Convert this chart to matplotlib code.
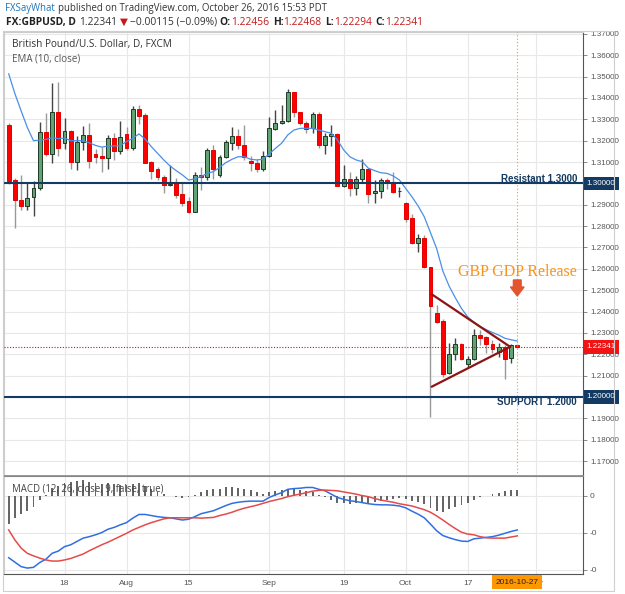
import matplotlib
matplotlib.use('Agg')
import matplotlib.pyplot as plt
import matplotlib.transforms as mtransforms
from matplotlib.patches import Rectangle, FancyArrow
import numpy as np
import pandas as pd

# daily GBPUSD candles, 2016-07-05 .. 2016-10-27
opens = [1.3274, 1.3016, 1.2923, 1.2896, 1.2935, 1.2977, 1.3239, 1.3136, 1.3333, 1.3188,
         1.3244, 1.3099, 1.3193, 1.3225, 1.3136, 1.3127, 1.3121, 1.3211, 1.3154, 1.3232,
         1.3164, 1.3347, 1.3321, 1.3101, 1.3066, 1.3032, 1.2993, 1.3001, 1.2949, 1.2918,
         1.2868, 1.3040, 1.3032, 1.3157, 1.3040, 1.3126, 1.3191, 1.3222, 1.3180, 1.3105,
         1.3097, 1.3068, 1.3129, 1.3255, 1.3282, 1.3294, 1.3427, 1.3333, 1.3282, 1.3258,
         1.3325, 1.3180, 1.3222, 1.3232, 1.2990, 1.3019, 1.2977, 1.3021, 1.3068, 1.2957,
         1.2966, 1.3016, 1.3008, 1.2963, 1.2910, 1.2837, 1.2720, 1.2743, 1.2607, 1.2392,
         1.2357, 1.2114, 1.2200, 1.2248, 1.2153, 1.2176, 1.2290, 1.2279, 1.2248, 1.2212,
         1.2235, 1.2184, 1.22456]
highs = [1.3285, 1.3024, 1.3040, 1.3008, 1.3011, 1.3289, 1.3332, 1.3469, 1.3474, 1.3305,
         1.3250, 1.3224, 1.3269, 1.3282, 1.3161, 1.3169, 1.3227, 1.3238, 1.3294, 1.3266,
         1.3363, 1.3367, 1.3328, 1.3105, 1.3075, 1.3040, 1.3086, 1.3027, 1.3001, 1.2938,
         1.3055, 1.3079, 1.3164, 1.3180, 1.3133, 1.3204, 1.3266, 1.3253, 1.3274, 1.3129,
         1.3114, 1.3152, 1.3313, 1.3344, 1.3367, 1.3441, 1.3430, 1.3336, 1.3294, 1.3336,
         1.3336, 1.3235, 1.3274, 1.3238, 1.3086, 1.3055, 1.3035, 1.3113, 1.3071, 1.3016,
         1.3024, 1.3027, 1.3052, 1.2985, 1.2915, 1.2855, 1.2763, 1.2759, 1.2610, 1.2431,
         1.2364, 1.2251, 1.2274, 1.2254, 1.2192, 1.2317, 1.2314, 1.2285, 1.2267, 1.2251,
         1.2243, 1.2246, 1.22468]
lows = [1.2998, 1.2790, 1.2876, 1.2876, 1.2849, 1.2969, 1.3129, 1.3097, 1.3129, 1.3160,
        1.3068, 1.3063, 1.3157, 1.3074, 1.3094, 1.3052, 1.3066, 1.3110, 1.3138, 1.3157,
        1.3157, 1.3277, 1.3094, 1.3019, 1.3016, 1.2954, 1.2988, 1.2930, 1.2896, 1.2860,
        1.2865, 1.2969, 1.3016, 1.3019, 1.3032, 1.3118, 1.3157, 1.3160, 1.3110, 1.3058,
        1.3055, 1.3058, 1.3122, 1.3250, 1.3279, 1.3289, 1.3313, 1.3274, 1.3238, 1.3235,
        1.3164, 1.3136, 1.3175, 1.2988, 1.2985, 1.2941, 1.2946, 1.3004, 1.2910, 1.2910,
        1.2933, 1.2974, 1.2954, 1.2935, 1.2818, 1.2716, 1.2680, 1.2602, 1.1908, 1.2345,
        1.2095, 1.2107, 1.2173, 1.2173, 1.2142, 1.2173, 1.2243, 1.2204, 1.2204, 1.2189,
        1.2082, 1.2157, 1.22294]
closes = [1.3013, 1.2923, 1.2896, 1.2934, 1.2977, 1.3239, 1.3136, 1.3333, 1.3168, 1.3244,
          1.3099, 1.3196, 1.3225, 1.3104, 1.3125, 1.3119, 1.3211, 1.3154, 1.3216, 1.3164,
          1.3347, 1.3317, 1.3097, 1.3058, 1.3029, 1.2993, 1.2999, 1.2946, 1.2907, 1.2868,
          1.3040, 1.3032, 1.3157, 1.3066, 1.3126, 1.3193, 1.3222, 1.3180, 1.3122, 1.3096,
          1.3068, 1.3129, 1.3258, 1.3282, 1.3294, 1.3427, 1.3333, 1.3282, 1.3253, 1.3325,
          1.3180, 1.3222, 1.3232, 1.2990, 1.3019, 1.2977, 1.3019, 1.3068, 1.2951, 1.2966,
          1.3016, 1.3008, 1.2961, 1.2965, 1.2834, 1.2720, 1.2743, 1.2610, 1.2426, 1.2353,
          1.2107, 1.2200, 1.2248, 1.2176, 1.2176, 1.2290, 1.2274, 1.2248, 1.2223, 1.2232,
          1.2176, 1.2243, 1.22341]
ema10 = [1.3513, 1.3420, 1.3340, 1.3262, 1.3200, 1.3203, 1.3206, 1.3214, 1.3210, 1.3212,
         1.3200, 1.3200, 1.3200, 1.3190, 1.3178, 1.3170, 1.3175, 1.3175, 1.3177, 1.3196,
         1.3211, 1.3232, 1.3207, 1.3172, 1.3141, 1.3110, 1.3082, 1.3060, 1.3040, 1.3016,
         1.3021, 1.3032, 1.3047, 1.3055, 1.3075, 1.3097, 1.3113, 1.3125, 1.3125, 1.3113,
         1.3110, 1.3113, 1.3138, 1.3164, 1.3188, 1.3227, 1.3250, 1.3258, 1.3258, 1.3258,
         1.3250, 1.3242, 1.3235, 1.3204, 1.3157, 1.3125, 1.3110, 1.3102, 1.3071, 1.3060,
         1.3050, 1.3047, 1.3035, 1.3016, 1.2977, 1.2938, 1.2895, 1.2844, 1.2770, 1.2695,
         1.2590, 1.2520, 1.2465, 1.2415, 1.2375, 1.2350, 1.2330, 1.2315, 1.2302, 1.2290,
         1.2275, 1.2268, 1.2262]

# MACD (12, 26, 9), in thousandths
macd = [-16.7, -17.9, -19.1, -19.5, -19.3, -18.0, -17.1, -15.5, -14.9, -13.7,
        -13.2, -12.3, -11.4, -11.0, -10.5, -9.9, -9.0, -8.5, -7.8, -7.2,
        -6.0, -5.0, -5.0, -5.3, -5.6, -5.8, -5.9, -6.2, -6.5, -6.3,
        -5.6, -4.8, -4.4, -4.0, -3.3, -2.6, -2.0, -1.7, -1.5, -1.4,
        -1.4, -1.4, -0.4, 0.3, 0.9, 1.8, 2.0, 2.1, 2.3, 2.3,
        1.8, 1.4, 0.5, -0.4, -0.9, -1.3, -1.5, -1.8, -2.1, -2.3,
        -2.4, -2.4, -2.5, -2.7, -3.2, -4.1, -4.9, -5.9, -7.6, -9.4,
        -10.7, -11.3, -11.8, -12.2, -12.3, -11.6, -11.4, -11.2, -11.0, -10.6,
        -10.1, -9.6, -9.2]
signal = [-9.2, -11.9, -14.1, -15.5, -16.2, -16.8, -17.3, -17.6, -17.6, -17.3,
          -16.9, -16.3, -15.7, -14.8, -14.0, -13.2, -12.5, -11.7, -10.9, -10.1,
          -9.2, -8.5, -7.8, -7.2, -6.7, -6.2, -5.9, -5.9, -5.9, -5.9,
          -5.9, -6.0, -5.9, -5.8, -5.3, -4.9, -4.4, -3.8, -3.3, -2.9,
          -2.5, -2.0, -1.5, -1.1, -0.7, -0.2, 0.2, 0.5, 0.9, 1.3,
          1.5, 1.6, 1.5, 1.4, 1.1, 0.8, 0.5, 0.1, -0.2, -0.7,
          -1.1, -1.4, -1.7, -2.1, -2.4, -2.7, -3.2, -3.7, -4.4, -5.4,
          -6.5, -7.7, -8.8, -9.8, -10.3, -10.5, -11.0, -11.3, -11.4, -11.4,
          -11.4, -11.1, -10.8]
hist = [-7.5, -6.0, -5.0, -4.0, -3.1, -1.2, 0.2, 2.1, 2.7, 3.6,
        3.7, 4.0, 4.3, 3.8, 3.5, 3.3, 3.5, 3.2, 3.1, 2.9,
        3.2, 3.5, 2.8, 1.9, 1.1, 0.4, 0.0, -0.3, -0.6, -0.4,
        0.3, 1.2, 1.5, 1.8, 2.0, 2.3, 2.4, 2.1, 1.8, 1.5,
        1.1, 0.6, 1.1, 1.4, 1.6, 2.0, 1.8, 1.6, 1.4, 1.0,
        0.3, -0.2, -1.0, -1.8, -2.0, -2.1, -2.0, -1.9, -1.9, -1.6,
        -1.3, -1.0, -0.8, -0.6, -0.8, -1.4, -1.7, -2.2, -3.2, -4.0,
        -4.2, -3.6, -3.0, -2.4, -2.0, -1.1, -0.4, 0.1, 0.4, 0.8,
        1.3, 1.5, 1.6]

start_date = '2016-07-05'
tick_dates = ['2016-07-18', '2016-08-01', '2016-08-15', '2016-09-01',
              '2016-09-19', '2016-10-03', '2016-10-17', '2016-11-01']
tick_labels = ['18', 'Aug', '15', 'Sep', '19', 'Oct', '17', 'Nov']
price_ticks = [1.17, 1.18, 1.19, 1.20, 1.21, 1.22, 1.23, 1.24, 1.25, 1.26, 1.27,
               1.28, 1.29, 1.30, 1.31, 1.32, 1.33, 1.34, 1.35, 1.36, 1.37]
macd_ticks = [0.0, -0.01, -0.02]
macd_tick_labels = ['0', '-0', '-0']

resistance = 1.30
support = 1.20
last_price = 1.22341
cursor_date = '2016-10-27'
# triangle trend lines (bar index, price)
tri_x = [68.2, 80.85]
tri_upper = [1.2481, 1.2235]
tri_lower = [1.2048, 1.2235]
release_date = '2016-10-27'

# ------------------------------------------------------------------
W, H = 625, 594
fig = plt.figure(figsize=(W / 100, H / 100), dpi=100)
fig.patch.set_facecolor('white')


def fx(x):
    return x / W


def fy(y):
    return 1 - y / H


all_days = pd.bdate_range(start_date, '2016-11-30')
x = np.arange(len(closes))
tick_pos = [all_days.get_loc(pd.Timestamp(d)) for d in tick_dates]
cursor_i = all_days.get_loc(pd.Timestamp(cursor_date))
release_i = all_days.get_loc(pd.Timestamp(release_date))

o = np.array(opens); h = np.array(highs); l = np.array(lows); c = np.array(closes)
up = c >= o

navy = '#133a62'
grid_c = '#e8e8e8'
lab_c = '#555555'
axfont = 'Liberation Sans'

ax = fig.add_axes([fx(4), fy(476), fx(583) - fx(4), fy(32) - fy(476)])
ax2 = fig.add_axes([fx(4), fy(574), fx(583) - fx(4), fy(476) - fy(574)], sharex=ax)

xmin, xmax = -0.76, 92.6
ax.set_xlim(xmin, xmax)
ax.set_ylim(1.1630, 1.3709)

# candles
ax.vlines(x[up], l[up], h[up], color='#444444', lw=1.0, zorder=2)
ax.vlines(x[~up], l[~up], h[~up], color='#999999', lw=1.0, zorder=2)
body = np.maximum(np.abs(c - o), 0.0002)
bottom = np.minimum(o, c)
ax.bar(x[up], body[up], bottom=bottom[up], width=0.62, color='#62a374',
       edgecolor='#1e3a27', lw=0.7, zorder=3)
ax.bar(x[~up], body[~up], bottom=bottom[~up], width=0.62, color='#ff0000',
       edgecolor='#e40000', lw=0.7, zorder=3)
ax.plot(x, ema10, color='#4a8fe6', lw=0.9, zorder=4)

# support / resistance
ax.axhline(resistance, color=navy, lw=1.5, zorder=5)
ax.axhline(support, color=navy, lw=1.5, zorder=5)
ytr = ax.get_yaxis_transform()
ax.text(0.9896, resistance + 0.0007, 'Resistant 1.3000', transform=ytr, ha='right',
        va='baseline', fontsize=7, fontweight='bold', color=navy, family=axfont, zorder=6)
ax.text(0.9896, support - 0.00375, 'SUPPORT 1.2000', transform=ytr, ha='right',
        va='baseline', fontsize=7, fontweight='bold', color=navy, family=axfont, zorder=6)

# last price line and cursor line
ax.axhline(last_price, color='#ff0000', lw=0.8, ls=(0, (1, 1.5)), zorder=4)
ax.axvline(cursor_i, color='#ff9800', lw=0.8, ls=(0, (1, 2)), zorder=4)

# triangle
ax.plot(tri_x, tri_upper, color='#8c1414', lw=1.6, zorder=5, solid_capstyle='round')
ax.plot(tri_x, tri_lower, color='#8c1414', lw=1.6, zorder=5, solid_capstyle='round')

# release note
ax.text(release_i, 1.2585, 'GBP GDP Release', ha='center', va='center', fontsize=11.5,
        family='Liberation Serif', color='#f7941d', zorder=6)
ax.add_patch(FancyArrow(release_i, 1.2548, 0, -0.0075, width=1.25, head_width=2.2,
                        head_length=0.0042, length_includes_head=True,
                        color='#e2552f', zorder=6))

# axes styling
ax.yaxis.tick_right()
ax.set_yticks(price_ticks)
ax.set_yticklabels(['' if p in (resistance, support) else f'{p:.5f}' for p in price_ticks])
ax.tick_params(axis='y', length=3, width=0.6, color='#777777', pad=2, labelsize=5.8,
               labelcolor=lab_c)
for t in ax.get_yticklabels():
    t.set_family(axfont)
ax.set_xticks(tick_pos)
ax.tick_params(axis='x', length=0, labelbottom=False)
ax.grid(color=grid_c, lw=0.8)
ax.set_axisbelow(True)
for s in ['left', 'top']:
    ax.spines[s].set_color('#cccccc')
ax.spines['right'].set_color('#555555')
ax.spines['bottom'].set_color('#888888')
ax.spines['bottom'].set_linewidth(1.2)

for val, txt, fc in [(resistance, '1.30000', navy), (support, '1.20000', navy),
                     (last_price, '1.22341', '#f01414')]:
    ax.text(1.0065, val, txt, transform=ytr, ha='left', va='center', fontsize=5.8,
            color='white', family=axfont, clip_on=False, zorder=10,
            bbox=dict(boxstyle='square,pad=0.4', fc=fc, ec='none'))

# MACD panel
ax2.bar(x, np.array(hist) / 1000, width=0.3, color='#666666', zorder=2)
ax2.plot(x, np.array(macd) / 1000, color='#2f6fe3', lw=1.1, zorder=3)
ax2.plot(x, np.array(signal) / 1000, color='#e44b4b', lw=1.1, zorder=3)
ax2.set_ylim(-0.0211, 0.0054)
ax2.yaxis.tick_right()
ax2.set_yticks(macd_ticks)
ax2.set_yticklabels(macd_tick_labels)
ax2.tick_params(axis='y', length=3, width=0.6, color='#777777', pad=2, labelsize=6,
                labelcolor=lab_c)
ax2.set_xticks(tick_pos)
ax2.set_xticklabels(tick_labels)
ax2.tick_params(axis='x', length=0, pad=4, labelsize=6, labelcolor=lab_c)
for t in ax2.get_xticklabels() + ax2.get_yticklabels():
    t.set_family(axfont)
ax2.grid(color=grid_c, lw=0.8)
ax2.set_axisbelow(True)
ax2.spines['left'].set_color('#cccccc')
ax2.spines['top'].set_color('#888888')
ax2.spines['right'].set_color('#555555')
ax2.spines['bottom'].set_color('#555555')
ax2.text(0.0138, 0.867, 'MACD (12, 26, close, 9, false, true)', transform=ax2.transAxes,
         ha='left', va='center', fontsize=6.9, color='#444444', family='Open Sans')
xtr = mtransforms.blended_transform_factory(ax2.transData, ax2.transAxes)
ax2.text(cursor_i, -0.085, '2016-10-27', transform=xtr, ha='center', va='center',
         fontsize=6, color='#222222', family=axfont, clip_on=False, zorder=10,
         bbox=dict(boxstyle='square,pad=0.4', fc='#ff9800', ec='none'))

# legend texts
fig.text(fx(12), fy(45), 'British Pound/U.S. Dollar, D, FXCM', fontsize=7.2,
         color='#333333', family='Open Sans', va='center')
fig.text(fx(12), fy(59), 'EMA (10, close)', fontsize=7.0, color='#555555',
         family='Open Sans', va='center')

# widget border
fig.add_artist(Rectangle((fx(3), fy(591)), fx(614) - fx(3), fy(31) - fy(591),
                         transform=fig.transFigure, fill=False, ec='#cfcfcf', lw=0.8))

# header
renderer = fig.canvas.get_renderer()


def chain(segs, x0, y, size):
    xp = x0
    for txt, col, wt, gap in segs:
        t = fig.text(fx(xp), fy(y), txt, color=col, fontweight=wt, fontsize=size,
                     va='center', ha='left', family=['Open Sans', 'DejaVu Sans'])
        xp += t.get_window_extent(renderer=renderer).width + gap


red = '#c41a1a'
chain([('FXSayWhat', '#1b75bb', 'normal', 3),
       ('published on TradingView.com, October 26, 2016 15:53 PDT', '#333333', 'normal', 0)],
      5, 8, 6.9)
chain([('FX:GBPUSD, D', '#222222', 'bold', 3.5),
       ('1.22341', '#333333', 'normal', 2.5),
       ('\u25bc', red, 'normal', 2),
       ('\u22120.00115 (\u22120.09%)', '#333333', 'normal', 3),
       ('O:', '#222222', 'bold', 0), ('1.22456', red, 'normal', 3.5),
       ('H:', '#222222', 'bold', 0), ('1.22468', red, 'normal', 3.5),
       ('L:', '#222222', 'bold', 0), ('1.22294', red, 'normal', 3.5),
       ('C:', '#222222', 'bold', 0), ('1.22341', red, 'normal', 0)],
      6, 22.5, 7.4)

fig.savefig('out.png', dpi=100, facecolor='white')
